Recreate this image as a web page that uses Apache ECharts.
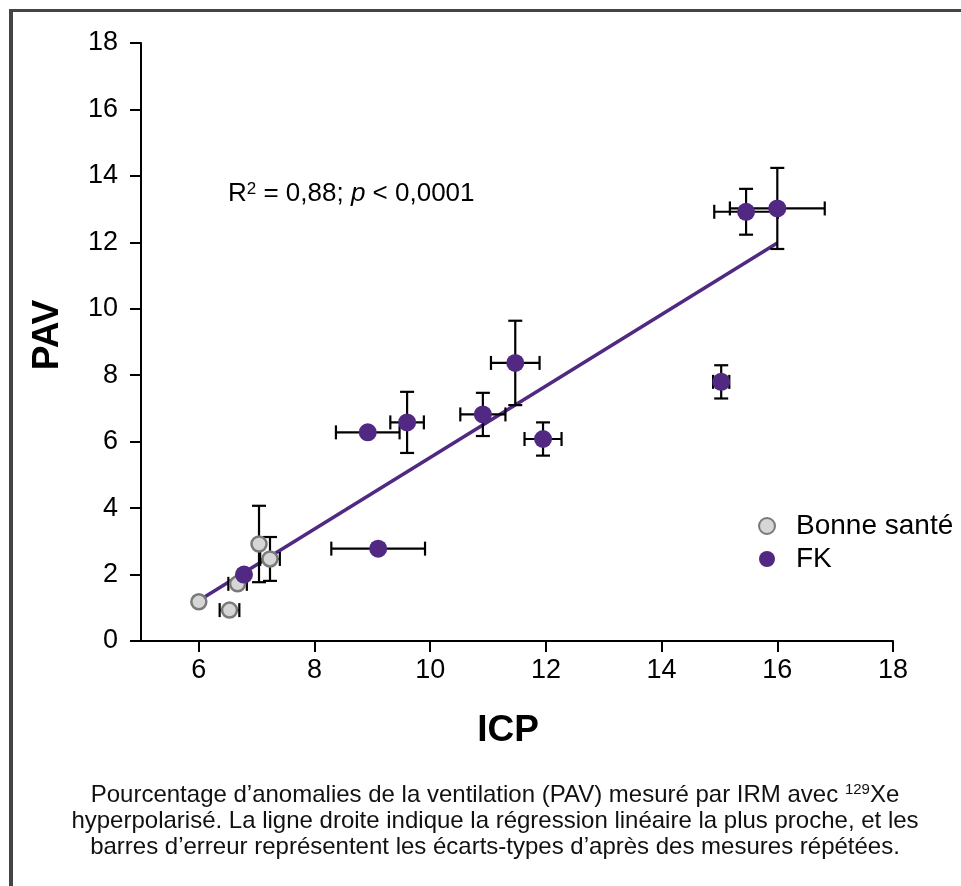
<!DOCTYPE html>
<html>
<head>
<meta charset="utf-8">
<script src="https://cdn.jsdelivr.net/npm/echarts@6/dist/echarts.min.js"></script>
<style>
	html, body { margin: 0; padding: 0; background: #fff; }
	#wrap { position: relative; width: 961px; height: 886px; overflow: hidden; }
	#frame {
		position: absolute; left: 9px; top: 9px; width: 1000px; height: 900px;
		border-top: 3px solid #444; border-left: 4px solid #444; box-sizing: border-box;
	}
	#chart { position: absolute; left: 0; top: 0; width: 961px; height: 886px; }
	#caption {
		position: absolute; left: 0; top: 781px; width: 990px; text-align: center;
		font-family: "Liberation Sans", Arial, sans-serif; font-size: 24px; line-height: 26px; color: #111;
	}
	#caption sup { font-size: 15px; vertical-align: 8px; line-height: 0; }
</style>
</head>
<body>
<div id="wrap">
	<div id="frame"></div>
	<div id="chart"></div>
	<div id="caption">
		Pourcentage d’anomalies de la ventilation (PAV) mesuré par IRM avec <sup>129</sup>Xe<br>
		hyperpolarisé. La ligne droite indique la régression linéaire la plus proche, et les<br>
		barres d’erreur représentent les écarts-types d’après des mesures répétées.
	</div>
</div>
<script>
// ── Data ─────────────────────────────────────────────
const xTicks = [6, 8, 10, 12, 14, 16, 18];

// Bonne santé (healthy)
const bsX    = [6.00, 6.53, 6.67, 7.04, 7.23];
const bsY    = [1.18, 0.93, 1.72, 2.92, 2.47];
const bsXErr = [0,    0.17, 0.16, 0,    0.17];
const bsYErr = [0,    0,    0,    1.15, 0.66];

// FK
const fkX    = [6.78, 8.92, 9.60, 10.91, 11.47, 11.95, 9.10, 15.46, 16.00, 15.03];
const fkY    = [2.00, 6.28, 6.58, 6.82,  8.37,  6.08,  2.78, 12.92, 13.02, 7.80];
const fkXErr = [0,    0.55, 0.29, 0.39,  0.42,  0.32,  0.81, 0.55,  0.82,  0.14];
const fkYErr = [0,    0,    0.92, 0.65,  1.27,  0.50,  0,    0.69,  1.22,  0.50];

// regression line end points
const regX = [6, 16];
const regY = [1.22, 11.98];

const GREY_FILL = "#d6d6d6";
const GREY_EDGE = "#7a7a7a";
const PURPLE = "#512882";
const FONT = '"Liberation Sans", Arial, sans-serif';

const zip = (...cols) => cols[0].map((_, i) => cols.map(c => c[i]));

/* ── Error bar renderer (custom series) ─────────────── */
function renderErr(params, api) {
	const x = api.value(0), y = api.value(1), ex = api.value(2), ey = api.value(3);
	const cap = 7;
	const style = { stroke: "#000", lineWidth: 2.2 };
	const kids = [];
	if (ex > 0) {
		const l = api.coord([x - ex, y]), r = api.coord([x + ex, y]);
		kids.push({ type: "line", shape: { x1: l[0], y1: l[1], x2: r[0], y2: r[1] }, style });
		kids.push({ type: "line", shape: { x1: l[0], y1: l[1] - cap, x2: l[0], y2: l[1] + cap }, style });
		kids.push({ type: "line", shape: { x1: r[0], y1: r[1] - cap, x2: r[0], y2: r[1] + cap }, style });
	}
	if (ey > 0) {
		const t = api.coord([x, y + ey]), b = api.coord([x, y - ey]);
		kids.push({ type: "line", shape: { x1: t[0], y1: t[1], x2: b[0], y2: b[1] }, style });
		kids.push({ type: "line", shape: { x1: t[0] - cap, y1: t[1], x2: t[0] + cap, y2: t[1] }, style });
		kids.push({ type: "line", shape: { x1: b[0] - cap, y1: b[1], x2: b[0] + cap, y2: b[1] }, style });
	}
	return { type: "group", children: kids };
}

const chart = echarts.init(document.getElementById("chart"), null, { renderer: "canvas" });

chart.setOption({
	animation: false,
	textStyle: { fontFamily: FONT },
	grid: { left: 141, right: 68, top: 43, bottom: 245, containLabel: false },
	xAxis: {
		type: "value", min: 5, max: 18,
		name: "ICP", nameLocation: "middle", nameGap: 71,
		nameTextStyle: { fontFamily: FONT, fontSize: 37, fontWeight: "bold", color: "#000", padding: [0, 18, 0, 0] },
		axisLine: { onZero: false, lineStyle: { color: "#000", width: 2 } },
		axisTick: { length: 11, lineStyle: { color: "#000", width: 2 }, customValues: xTicks },
		axisLabel: { margin: 16, fontSize: 27, color: "#000", fontFamily: FONT, customValues: xTicks },
		splitLine: { show: false },
	},
	yAxis: {
		type: "value", min: 0, max: 18, interval: 2,
		name: "PAV", nameLocation: "middle", nameGap: 75, nameRotate: 90,
		nameTextStyle: { fontFamily: FONT, fontSize: 37, fontWeight: "bold", color: "#000", padding: [0, 0, 0, 14] },
		axisLine: { show: true, onZero: false, lineStyle: { color: "#000", width: 2 } },
		axisTick: { show: true, length: 11, lineStyle: { color: "#000", width: 2 } },
		axisLabel: { margin: 23, fontSize: 27, color: "#000", fontFamily: FONT },
		splitLine: { show: false },
	},
	legend: {
		data: ["Bonne santé", "FK"],
		orient: "vertical", left: 753, top: 507,
		itemWidth: 16, itemHeight: 16, itemGap: 5,
		icon: "circle",
		textStyle: { fontSize: 28, color: "#000", fontFamily: FONT, padding: [0, 0, 0, 16] },
	},
	graphic: [{
		type: "text", left: 228, top: 181,
		style: {
			text: "R{sup|2} = 0,88; {it|p} < 0,0001",
			font: `26px ${FONT}`, fill: "#000",
			rich: {
				sup: { fontSize: 17, verticalAlign: "top", padding: [0, 0, 9, 0], fontFamily: FONT },
				it: { fontStyle: "italic", fontSize: 26, fontFamily: FONT },
			},
		},
	}],
	series: [
		{
			type: "line", name: "reg", data: zip(regX, regY), showSymbol: false,
			lineStyle: { color: PURPLE, width: 3.5 }, z: 1, silent: true,
		},
		{
			type: "custom", name: "errBS", renderItem: renderErr, data: zip(bsX, bsY, bsXErr, bsYErr),
			encode: { x: 0, y: 1 }, z: 2, silent: true,
		},
		{
			type: "custom", name: "errFK", renderItem: renderErr, data: zip(fkX, fkY, fkXErr, fkYErr),
			encode: { x: 0, y: 1 }, z: 2, silent: true,
		},
		{
			type: "scatter", name: "Bonne santé", data: zip(bsX, bsY), symbolSize: 15,
			itemStyle: { color: GREY_FILL, borderColor: GREY_EDGE, borderWidth: 2.5, opacity: 1 }, z: 3,
		},
		{
			type: "scatter", name: "FK", data: zip(fkX, fkY), symbolSize: 18,
			itemStyle: { color: PURPLE, opacity: 1 }, z: 3,
		},
	],
});
</script>
</body>
</html>
